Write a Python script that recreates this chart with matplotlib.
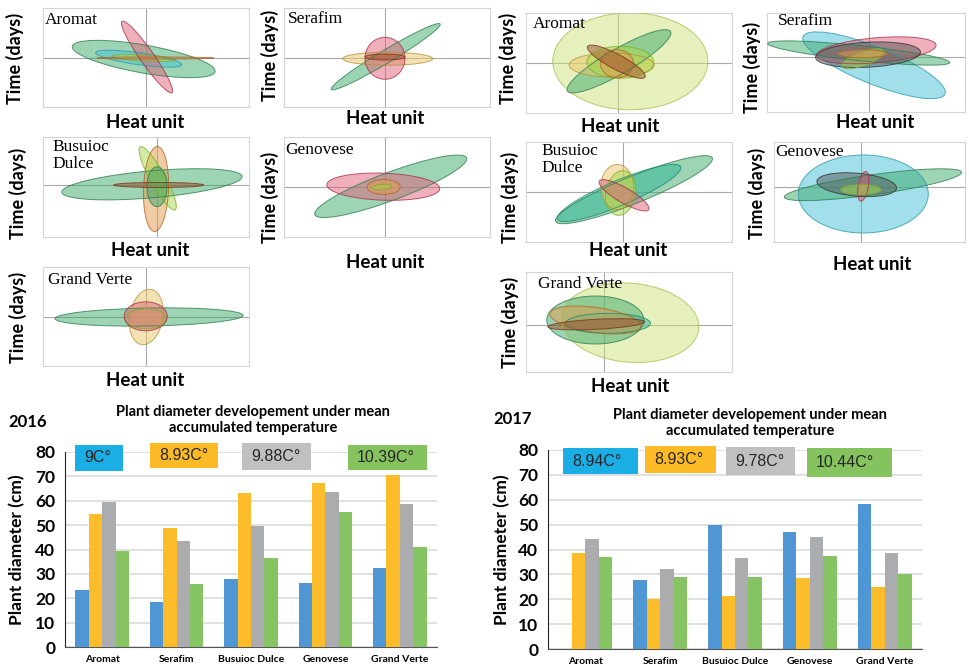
import numpy as np
import matplotlib
matplotlib.use("Agg")
import matplotlib.pyplot as plt
from matplotlib.patches import Ellipse, Rectangle

W, H = 969, 669

# ---- bar chart data ----
varieties = ["Aromat", "Serafim", "Busuioc Dulce", "Genovese", "Grand Verte"]
temps_2016 = ["9C°", "8.93C°", "9.88C°", "10.39C°"]
temps_2017 = ["8.94C°", "8.93C°", "9.78C°", "10.44C°"]

blue_2016 = [23.2, 18.4, 27.7, 26.3, 32.4]
orange_2016 = [54.5, 48.7, 63.1, 67.2, 70.4]
gray_2016 = [59.4, 43.5, 49.7, 63.5, 58.7]
green_2016 = [39.5, 25.7, 36.6, 55.3, 41.2]

blue_2017 = [0, 27.6, 49.9, 47.1, 58.4]
orange_2017 = [38.5, 20.1, 21.4, 28.7, 25.1]
gray_2017 = [44.1, 32.0, 36.7, 44.9, 38.5]
green_2017 = [37.1, 29.1, 29.1, 37.4, 30.2]

# ---- ellipse data: (cx, cy, width, height, angle, colour) relative to axis cross ----
aromat_2016 = [(-2.3, -1, 145, 28, -10, "green"), (-7.3, -0.7, 87, 12, -8, "cyan"),
               (-2.3, 0, 63, 6, -3, "lgreen"), (9.3, 0, 117, 2, 0, "orange"),
               (1, 1, 87, 14, -55, "red")]
serafim_2016 = [(0.7, 1.3, 127, 13, 31, "green"), (2.7, -0.7, 90, 13, 0, "yellow"),
                (0, -0.3, 40, 42, 0, "red"), (0, 1, 40, 6, 0, "brown")]
busuioc_2016 = [(-5, 0.7, 181, 27, 5, "green"), (-1, -4, 85, 25, 88, "orange"),
                (0.7, 6.7, 72, 15, -61, "lgreen"), (1.7, 0, 90, 5, 0, "brown"),
                (0, -1.7, 40, 20, 90, "green")]
genovese_2016 = [(5.7, 0.7, 162, 28, 20.5, "green"), (-1.7, 0.3, 113, 27, -2, "red"),
                 (-1.3, 0, 33, 15, 0, "orange"), (-3.3, 0, 20, 5, 5, "lgreen")]
grandverte_2016 = [(3, 0, 188, 18, 1, "green"), (0, -1.7, 42, 20, 0, "lgreen"),
                   (0.3, 0, 56, 33, 80, "yellow"), (-0.3, 0.7, 43, 29, 0, "red")]

aromat_2017 = [(12.3, 1.7, 155, 97, 0, "lyg"), (1, 1.7, 119, 25, 30, "green"),
               (-6.3, -2, 85, 24, 0, "yellow"), (2.3, 0.7, 67, 32, 0, "lgreen"),
               (-1, -0.7, 33, 28, 0, "orange"), (-1.7, 1.3, 65, 15, -28, "brown")]
serafim_2017 = [(5, -8.3, 153, 37, -22, "cyan"), (-10.3, 4, 183, 15, -6, "green"),
                (7.3, 6.7, 120, 25, 5, "red"), (-1, 2.3, 105, 25, 3, "dgray"),
                (-6, -1.7, 45, 14, 20, "lgreen"), (-6, 3.3, 50, 8, 0, "orange")]
busuioc_2017 = [(11, 2.3, 169, 27, 22, "green"), (-4, -1, 134, 25, 23, "teal"),
                (-5.7, 5, 33, 45, 0, "yellow"), (-2.3, -1, 45, 30, 80, "lgreen"),
                (1, -3.3, 57, 15, -30, "red")]
genovese_2017 = [(2.3, -7, 130, 78, 0, "cyan"), (12, 2.3, 179, 20, 8, "green"),
                 (-4.3, 2.3, 80, 23, -5, "dgray"), (2.3, 0.7, 30, 10, 80, "red"),
                 (0, -2.7, 40, 10, 0, "lgreen")]
grandverte_2017 = [(26, 2.3, 138, 79, -5, "lyg"), (-8.7, 5, 97, 48, 0, "green"),
                   (4, 1.7, 85, 20, 0, "teal"), (-8.7, 5, 92, 25, -8, "orange"),
                   (-7.7, 0.7, 97, 10, 3, "brown")]

ell_colors = {
    "green": ("#3DAA6B", "#2E7D4F"), "red": ("#E0607A", "#A83048"),
    "yellow": ("#E9C86A", "#B8923A"), "orange": ("#E39A4C", "#B0642A"),
    "cyan": ("#45C3D6", "#2E9AAE"), "teal": ("#2DB89A", "#1F8A72"),
    "lgreen": ("#A8D84A", "#7EAE2C"), "lyg": ("#CDE37A", "#A8C050"),
    "brown": ("#9C4A2A", "#7A3318"), "dgray": ("#555555", "#333333"),
}

# panel layout in pixels: frame (l, t, r, b), cross (vx, hy), name pos, ylabel pos, xlabel pos
panels = [
    ("Aromat", aromat_2016, (43, 8, 249, 107), (146, 58), (45, 12), (15, 58), (145, 123)),
    ("Serafim", serafim_2016, (284, 8, 490, 107), (385, 58), (288, 11), (270, 55), (385, 118)),
    ("Busuioc\nDulce", busuioc_2016, (43, 137, 249, 237), (157, 185), (52, 139), (18, 193), (150, 250)),
    ("Genovese", genovese_2016, (284, 137, 490, 237), (385, 187), (285, 142), (270, 197), (385, 262)),
    ("Grand Verte", grandverte_2016, (43, 267, 249, 366), (146, 317), (48, 272), (18, 317), (145, 380)),
    ("Aromat", aromat_2017, (526, 13, 732, 113), (618, 63), (533, 16), (508, 58), (620, 127)),
    ("Serafim", serafim_2017, (767, 13, 965, 112), (869, 57), (778, 13), (752, 67), (875, 122)),
    ("Busuioc\nDulce", busuioc_2017, (526, 142, 732, 242), (623, 192), (541, 143), (510, 197), (628, 251)),
    ("Genovese", genovese_2017, (774, 142, 965, 242), (861, 187), (775, 144), (757, 193), (872, 265)),
    ("Grand Verte", grandverte_2017, (526, 272, 732, 372), (604, 325), (538, 276), (510, 322), (630, 387)),
]

plt.rcParams['font.family'] = ['Lato', 'DejaVu Sans']

fig = plt.figure(figsize=(W / 100, H / 100), dpi=100)
fig.patch.set_facecolor("white")


def px_axes(l, t, r, b):
    return fig.add_axes([l / W, 1 - b / H, (r - l) / W, (b - t) / H])


for name, ells, frame, cross, npos, ypos, xpos in panels:
    l, t, r, b = frame
    vx, hy = cross
    ax = px_axes(l, t, r, b)
    ax.set_xlim(l - vx, r - vx)
    ax.set_ylim(hy - b, hy - t)
    ax.axhline(0, color="#A8A8A8", lw=0.8, zorder=0)
    ax.axvline(0, color="#A8A8A8", lw=0.8, zorder=0)
    for cx, cy, w, h, ang, key in ells:
        fc, ec = ell_colors[key]
        ax.add_patch(Ellipse((cx, cy), w, h, angle=ang, facecolor=fc, alpha=0.5,
                             edgecolor="none", zorder=2))
        ax.add_patch(Ellipse((cx, cy), w, h, angle=ang, facecolor="none",
                             edgecolor=ec, alpha=0.8, lw=0.7, zorder=3))
    ax.set_xticks([])
    ax.set_yticks([])
    for s in ax.spines.values():
        s.set_color("#D4D4D4")
        s.set_linewidth(0.8)
    fig.text(npos[0] / W, 1 - npos[1] / H, name, family="Liberation Serif",
             fontsize=12.5, va="top", ha="left", linespacing=1.05)
    fig.text(ypos[0] / W, 1 - ypos[1] / H, "Time (days)", rotation=90, fontsize=13,
             fontweight="bold", ha="center", va="center")
    fig.text(xpos[0] / W, 1 - xpos[1] / H, "Heat unit", fontsize=13.5,
             fontweight="bold", ha="center", va="center")

# ---- bar charts ----
bar_cols = ["#4E96D4", "#FDBC2A", "#ABACAE", "#86C463"]
box_cols = ["#1AAEE4", "#FDBA27", "#C0C0C0", "#84C35E"]

bar_sets = [
    ("2016", [blue_2016, orange_2016, gray_2016, green_2016], temps_2016,
     (65, 452, 437, 647), (28, 422), (253, 420), (17, 550),
     [(75, 445, 123, 471), (150, 443, 218, 468), (242, 443, 311, 470), (348, 445, 427, 470)]),
    ("2017", [blue_2017, orange_2017, gray_2017, green_2017], temps_2017,
     (548, 450, 922, 649), (513, 419), (750, 423), (502, 550),
     [(563, 448, 638, 474), (645, 446, 716, 473), (726, 447, 795, 475), (807, 448, 892, 477)]),
]

x = np.arange(len(varieties))
bw = 0.18
for year, series, temps, frame, ypos, tpos, ylpos, boxes in bar_sets:
    ax = px_axes(*frame)
    for i, vals in enumerate(series):
        ax.bar(x + (i - 1.5) * bw, vals, width=bw, color=bar_cols[i], zorder=3)
    ax.set_xlim(-0.5, 4.5)
    ax.set_ylim(0, 80)
    ax.set_yticks(range(0, 81, 10))
    ax.set_xticks(x)
    ax.set_xticklabels(varieties, fontsize=7.5, fontweight="bold")
    ax.tick_params(axis="y", labelsize=12.5, length=0, pad=7)
    ax.tick_params(axis="x", length=0, pad=6)
    for lab in ax.get_yticklabels():
        lab.set_fontweight("bold")
    ax.grid(axis="y", color="#DADADA", lw=1.2, zorder=0)
    for s in ["top", "right"]:
        ax.spines[s].set_visible(False)
    ax.spines["left"].set_color("#222222")
    ax.spines["bottom"].set_color("#555555")
    fig.text(ypos[0] / W, 1 - ypos[1] / H, year, fontsize=12, fontweight="bold",
             ha="center", va="center")
    fig.text(tpos[0] / W, 1 - tpos[1] / H,
             "Plant diameter developement under mean\naccumulated temperature",
             fontsize=10.5, fontweight="bold", ha="center", va="center", linespacing=1.1)
    fig.text(ylpos[0] / W, 1 - ylpos[1] / H, "Plant diameter (cm)", rotation=90,
             fontsize=12.5, fontweight="bold", ha="center", va="center")
    for (bl, bt, br, bb), col, txt in zip(boxes, box_cols, temps):
        fig.patches.append(Rectangle((bl / W, 1 - bb / H), (br - bl) / W, (bb - bt) / H,
                                     transform=fig.transFigure, facecolor=col,
                                     edgecolor="none", zorder=5))
        fig.text((bl + 9) / W, 1 - (bt + bb) / 2 / H, txt, family="Liberation Sans",
                 fontsize=11.5, ha="left", va="center", color="#262626", zorder=6)

fig.savefig("out.png", dpi=100)
